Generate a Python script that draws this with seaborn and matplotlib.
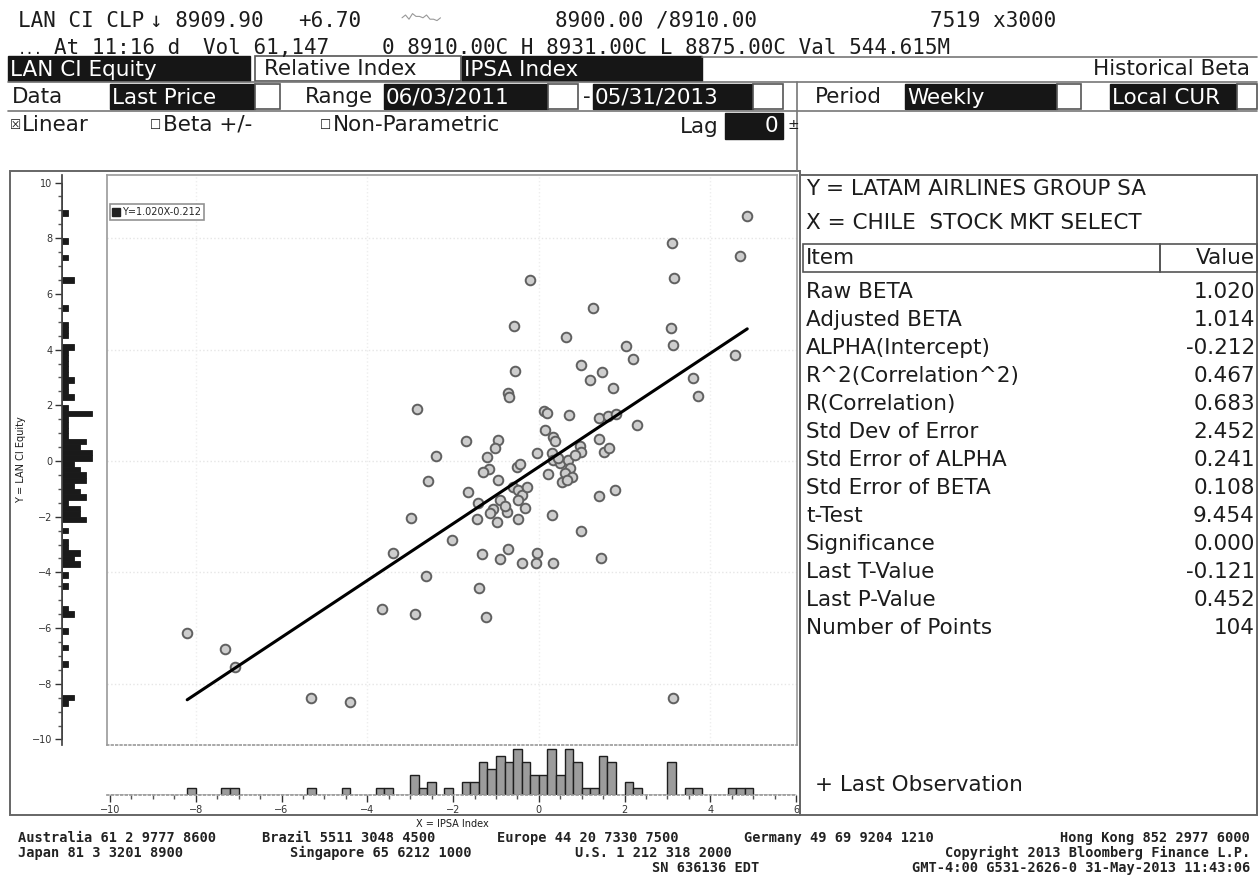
import numpy as np
import pandas as pd
import matplotlib
matplotlib.use('Agg')
import matplotlib.pyplot as plt
import seaborn as sns
from matplotlib.patches import Rectangle
from matplotlib.ticker import MultipleLocator

# weekly % changes: x = IPSA Index, y = LAN CI Equity
ipsa = [4.86, 3.11, 4.69, -0.20, 3.15, 1.27, -0.58, 0.64, 3.08, 3.13,
        2.03, 2.20, 4.58, 0.99, 1.48, 1.20, -0.55, 1.73, 3.60, 3.71,
        -0.72, -0.69, -2.84, 0.12, 0.19, 0.71, 1.41, 1.62, 1.80, 2.29,
        0.15, 0.33, 0.38, -1.70, -0.95, -1.02, 1.41, 0.96, 0.99, 1.52,
        1.64, -2.40, -1.21, -0.04, 0.31, 0.33, 0.50, 0.68, 0.73, 0.61,
        0.54, 0.78, -1.16, -0.51, -0.44, -2.58, -0.95, 0.66, -0.60, -1.65,
        -0.48, -0.39, -1.42, -0.90, -1.07, -1.14, -0.74, -0.48, -0.32, -1.44,
        -0.97, -0.48, 0.31, -2.98, -2.02, 1.41, 1.78, 0.99, -3.40, -1.32,
        -0.72, -0.90, -0.39, -0.06, -0.04, 0.33, 1.45, -2.63, -1.39, -3.66,
        -2.89, -1.23, -8.20, -7.32, -7.08, -5.31, -4.40, 3.13,
        -0.80, 0.45, -0.28, 0.85, -1.30, 0.22]
lan = [8.80, 7.83, 7.36, 6.50, 6.57, 5.49, 4.85, 4.45, 4.78, 4.17,
       4.13, 3.66, 3.81, 3.45, 3.20, 2.91, 3.23, 2.62, 2.98, 2.33,
       2.44, 2.30, 1.87, 1.80, 1.72, 1.65, 1.54, 1.62, 1.69, 1.29,
       1.11, 0.86, 0.72, 0.72, 0.75, 0.47, 0.79, 0.54, 0.32, 0.32,
       0.47, 0.18, 0.14, 0.29, 0.29, 0.04, -0.07, 0.04, -0.25, -0.43,
       -0.75, -0.57, -0.29, -0.22, -0.11, -0.72, -0.68, -0.68, -0.93, -1.11,
       -1.04, -1.22, -1.51, -1.40, -1.72, -1.87, -1.83, -1.40, -1.69, -2.08,
       -2.19, -2.08, -1.94, -2.05, -2.84, -1.26, -1.04, -2.51, -3.30, -3.34,
       -3.16, -3.52, -3.66, -3.66, -3.30, -3.66, -3.48, -4.13, -4.56, -5.31,
       -5.49, -5.60, -6.18, -6.75, -7.40, -8.51, -8.65, -8.51,
       -1.60, 0.12, -0.95, 0.22, -0.40, -0.45]

beta = 1.020
alpha = -0.212

stat_items = ['Raw BETA', 'Adjusted BETA', 'ALPHA(Intercept)', 'R^2(Correlation^2)',
              'R(Correlation)', 'Std Dev of Error', 'Std Error of ALPHA',
              'Std Error of BETA', 't-Test', 'Significance', 'Last T-Value',
              'Last P-Value', 'Number of Points']
stat_values = ['1.020', '1.014', '-0.212', '0.467', '0.683', '2.452', '0.241',
               '0.108', '9.454', '0.000', '-0.121', '0.452', '104']

spark = [3, 5, 2, 6, 4, 4, 3, 5, 2, 2, 1, 3]

df = pd.DataFrame({'x': ipsa, 'y': lan})

W, H = 1259, 883
sns.set_theme(style='ticks')
plt.rcParams['font.family'] = ['DejaVu Sans']
ink = '#1c1c1c'

fig = plt.figure(figsize=(W / 100, H / 100), dpi=100)
fig.patch.set_facecolor('white')


def box(l, t, w, h):
    # pixel box (top-left origin) -> figure fraction
    return [l / W, 1 - (t + h) / H, w / W, h / H]


ax = fig.add_axes(box(107, 175, 690, 570))
ax_x = fig.add_axes(box(107, 745, 690, 50), sharex=ax)
ax_y = fig.add_axes(box(62, 175, 45, 570), sharey=ax)

### SCATTER ###
for v in [-8, -4, 0, 4, 8]:
    ax.axhline(v, color='#e6e6e6', lw=1, ls=':', zorder=0)
for v in [-8, -4, 0, 4]:
    ax.axvline(v, color='#eeeeee', lw=1, ls=':', zorder=0)

sns.scatterplot(data=df, x='x', y='y', ax=ax, s=48, color='#cdcdcd',
                edgecolor='#606060', linewidth=1.4, legend=False, zorder=3)

fit_x = np.array([df.x.min(), df.x.max()])
fit_y = beta * fit_x + alpha
sns.lineplot(x=fit_x, y=fit_y, ax=ax, color='black', linewidth=2.2, zorder=4)

ax.plot([], [], 's', color='#222', markersize=6, label='Y=%.3fX%.3f' % (beta, alpha))
leg = ax.legend(loc='upper left', bbox_to_anchor=(0.0, 0.955), fontsize=7,
                frameon=True, fancybox=False, handlelength=0.6, handletextpad=0.3,
                borderpad=0.35, borderaxespad=0.3)
leg.get_frame().set_edgecolor('#777')
leg.get_frame().set_linewidth(1.2)

ax.set_xlim(-10.07, 6.02)
ax.set_ylim(-10.2, 10.27)
ax.set_xlabel('')
ax.set_ylabel('')
ax.tick_params(which='both', left=False, bottom=False, top=False, right=False,
               labelleft=False, labelbottom=False)
for s in ax.spines.values():
    s.set_color('#9a9a9a')
    s.set_linewidth(1.2)
ax.spines['bottom'].set_linestyle(':')

### MARGINAL HISTOGRAMS ###
sns.histplot(x=ipsa, binwidth=0.2, binrange=(-10, 6), ax=ax_x, color='#9c9c9c',
             edgecolor='#1e1e1e', linewidth=1.0, alpha=1)
ax_x.set_ylim(0, 7.6)
ax_x.set_ylabel('')
ax_x.set_xlabel('X = IPSA Index', fontsize=7, color=ink, labelpad=3)
ax_x.xaxis.set_major_locator(MultipleLocator(2))
ax_x.xaxis.set_minor_locator(MultipleLocator(0.5))
ax_x.tick_params(axis='x', which='major', length=5, width=1, labelsize=7,
                 colors='#333', pad=2)
ax_x.tick_params(axis='x', which='minor', length=3, width=1, colors='#555')
ax_x.tick_params(axis='y', which='both', left=False, labelleft=False)
for k in ['top', 'right', 'left']:
    ax_x.spines[k].set_visible(False)
ax_x.spines['bottom'].set_color('#9a9a9a')
ax_x.spines['bottom'].set_linestyle(':')
ax_x.patch.set_alpha(0)

sns.histplot(y=lan, binwidth=0.2, binrange=(-10, 10), ax=ax_y, color='#1a1a1a',
             edgecolor='#1a1a1a', linewidth=0.6, alpha=1)
ax_y.set_xlim(0, 7.5)
ax_y.set_xlabel('')
ax_y.set_ylabel('Y = LAN CI Equity', fontsize=7, color=ink, labelpad=4)
ax_y.yaxis.set_major_locator(MultipleLocator(2))
ax_y.yaxis.set_minor_locator(MultipleLocator(0.5))
ax_y.tick_params(axis='y', which='major', length=5, width=1, labelsize=7,
                 colors='#333', pad=2)
ax_y.tick_params(axis='y', which='minor', length=3, width=1, colors='#555')
ax_y.tick_params(axis='x', which='both', bottom=False, labelbottom=False)
for k in ['top', 'right', 'bottom']:
    ax_y.spines[k].set_visible(False)
ax_y.spines['left'].set_color('#444')
ax_y.patch.set_alpha(0)

### SCREEN OVERLAY (header, stats panel, footer) ###
ov = fig.add_axes([0, 0, 1, 1], zorder=10)
ov.set_xlim(0, W)
ov.set_ylim(H, 0)
ov.axis('off')
ov.patch.set_alpha(0)


def dark(l, t, w, h, label='', tx=None, size=15.5):
    ov.add_patch(Rectangle((l, t), w, h, facecolor='#161616', edgecolor='#161616'))
    if label:
        ov.text(l + 2 if tx is None else tx, t + h / 2 + 1, label, color='white',
                fontsize=size, va='center', ha='left')


def light(l, t, w, h):
    ov.add_patch(Rectangle((l, t), w, h, facecolor='white', edgecolor='#555', lw=1.2))


def txt(x, y, s, size=15.5, ha='left', **kw):
    kw.setdefault('color', ink)
    ov.text(x, y, s, fontsize=size, ha=ha, va='center', **kw)


mono = 'DejaVu Sans Mono'
txt(18, 21, 'LAN CI CLP', 15, family=mono)
txt(150, 21, '\u2193 8909.90', 15, family=mono)
txt(298, 21, '+6.70', 15, family=mono)
sx = 402 + np.arange(len(spark)) * 3.5
ov.plot(sx, 22 - np.array(spark) * 1.4, color='#999', lw=0.8)
txt(555, 21, '8900.00 /8910.00', 15, family=mono)
txt(930, 21, '7519 x3000', 15, family=mono)
txt(18, 50, '...', 10, family=mono)
txt(54, 48, 'At 11:16 d', 15, family=mono)
txt(203, 48, 'Vol 61,147', 15, family=mono)
txt(382, 48, '0 8910.00C H 8931.00C L 8875.00C Val 544.615M', 15, family=mono)

# row 1
dark(8, 56, 242, 25, 'LAN CI Equity')
light(255, 56, 206, 25)
txt(264, 69, 'Relative Index')
dark(462, 56, 240, 25, 'IPSA Index')
ov.plot([702, 1257], [57, 57], color='#777', lw=1.2)
txt(1250, 69, 'Historical Beta', ha='right')
# row 2
ov.plot([8, 1257], [82, 82], color='#777', lw=1.2)
txt(12, 97, 'Data')
dark(110, 84, 145, 25, 'Last Price')
light(255, 84, 25, 25)
txt(305, 97, 'Range')
dark(384, 84, 164, 25, '06/03/2011')
light(548, 84, 30, 25)
txt(583, 97, '-')
dark(593, 84, 160, 25, '05/31/2013')
light(753, 84, 30, 25)
ov.plot([797, 797], [82, 170], color='#777', lw=1.2)
txt(815, 97, 'Period')
dark(905, 84, 152, 25, 'Weekly')
light(1057, 84, 24, 25)
dark(1110, 84, 127, 25, 'Local CUR')
light(1237, 84, 20, 25)
ov.plot([8, 1257], [111, 111], color='#777', lw=1.2)
# row 3
txt(10, 125, '\u2612', 9)
txt(22, 125, 'Linear')
txt(150, 125, '\u2610', 9)
txt(163, 125, 'Beta +/-')
txt(320, 125, '\u2610', 9)
txt(333, 125, 'Non-Parametric')
txt(680, 127, 'Lag')
dark(725, 113, 58, 26)
ov.text(778, 126, '0', color='white', fontsize=15.5, ha='right', va='center')
txt(788, 125, '\u00b1', 10)

# chart frame
ov.add_patch(Rectangle((10, 171), 790, 644, facecolor='none', edgecolor='#666', lw=1.4))
ov.add_patch(Rectangle((800, 175), 457, 640, facecolor='none', edgecolor='#666', lw=1.4))

# stats panel
txt(806, 189, 'Y = LATAM AIRLINES GROUP SA')
txt(806, 223, 'X = CHILE  STOCK MKT SELECT')
ov.add_patch(Rectangle((803, 244), 357, 28, facecolor='none', edgecolor='#555', lw=1.2))
ov.add_patch(Rectangle((1160, 244), 97, 28, facecolor='none', edgecolor='#555', lw=1.2))
txt(806, 258, 'Item')
txt(1255, 258, 'Value', ha='right')
for i, (item, val) in enumerate(zip(stat_items, stat_values)):
    yy = 292 + i * 28
    txt(806, yy, item)
    txt(1255, yy, val, ha='right')
txt(815, 785, '+ Last Observation')

# footer
ft = dict(family=mono, weight='bold', color='#222')
fs = 9.8
txt(18, 838, 'Australia 61 2 9777 8600', fs, **ft)
txt(262, 838, 'Brazil 5511 3048 4500', fs, **ft)
txt(497, 838, 'Europe 44 20 7330 7500', fs, **ft)
txt(744, 838, 'Germany 49 69 9204 1210', fs, **ft)
txt(1250, 838, 'Hong Kong 852 2977 6000', fs, ha='right', **ft)
txt(18, 853, 'Japan 81 3 3201 8900', fs, **ft)
txt(290, 853, 'Singapore 65 6212 1000', fs, **ft)
txt(575, 853, 'U.S. 1 212 318 2000', fs, **ft)
txt(1250, 853, 'Copyright 2013 Bloomberg Finance L.P.', fs, ha='right', **ft)
txt(652, 868, 'SN 636136 EDT', fs, **ft)
txt(1250, 868, 'GMT-4:00 G531-2626-0 31-May-2013 11:43:06', fs, ha='right', **ft)

fig.savefig('out.png', dpi=100)
